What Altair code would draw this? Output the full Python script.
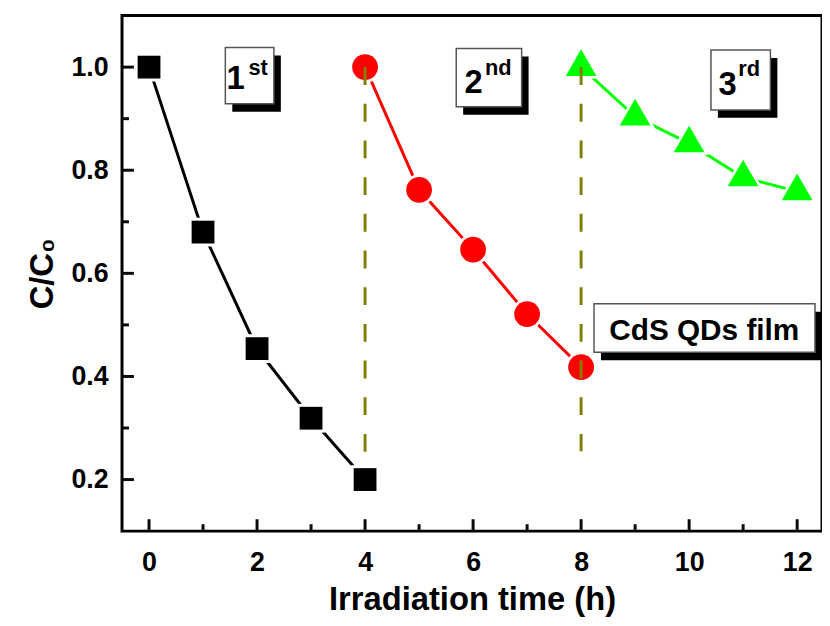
import altair as alt
import pandas as pd

# ---- data ----
t1 = [0, 1, 2, 3, 4]
c1 = [1.0, 0.680, 0.454, 0.319, 0.200]
t2 = [4, 5, 6, 7, 8]
c2 = [1.0, 0.762, 0.646, 0.521, 0.418]
t3 = [8, 9, 10, 11, 12]
c3 = [1.0, 0.904, 0.852, 0.786, 0.759]

run_start = [4, 8]
run_top = [1.0, 1.0]
run_bottom = [0.245, 0.255]

x_major = [0, 2, 4, 6, 8, 10, 12]
x_minor = [1, 3, 5, 7, 9, 11]
y_major = [0.2, 0.4, 0.6, 0.8, 1.0]
y_minor = [0.3, 0.5, 0.7, 0.9]

cycle_main = ["1", "2", "3"]
cycle_sup = ["st", "nd", "rd"]
sample_label = ["CdS QDs film"]

# annotation anchors (data units)
box_left = [1.413, 5.688, 10.404]
box_right = [2.312, 6.899, 11.505]
box_top = [1.038, 1.036, 1.033]
box_bottom = [0.929, 0.923, 0.917]
main_x = [1.77, 6.18, 10.88]
main_y = [0.957, 0.950, 0.946]
sup_x = [1.84, 6.22, 10.91]
sup_y = [0.985, 0.984, 0.982]
sample_box = [8.239, 12.33, 0.541, 0.447]
sample_text = [10.28, 0.471]

W, H = 706, 520
X_DOM = [-0.5, 12.46]
Y_DOM = [0.1, 1.1]
FONT = "Liberation Sans"
TRI = "M0,-1.155L1,0.577L-1,0.577Z"

xs = alt.Scale(domain=X_DOM, nice=False, zero=False)
ys = alt.Scale(domain=Y_DOM, nice=False, zero=False)
x_axis = alt.Axis(values=x_major, format="d", title="Irradiation time (h)", domain=False, ticks=False,
                  tickSize=0, grid=False, labelPadding=19, titlePadding=8)
y_axis = alt.Axis(values=y_major, format=".1f", title="C/C₀", domain=False, ticks=False,
                  tickSize=0, grid=False, labelPadding=14, titlePadding=12)


def X(f):
    return alt.X(f, type="quantitative", scale=xs, axis=x_axis)


def Y(f):
    return alt.Y(f, type="quantitative", scale=ys, axis=y_axis)


def series(t, c):
    return pd.DataFrame({"t": t, "c": c})


xu = (X_DOM[1] - X_DOM[0]) / W
yu = (Y_DOM[1] - Y_DOM[0]) / H
TW = 1.5  # half tick width, px


def xticks(vals, length):
    return pd.DataFrame({"l": [v - TW * xu for v in vals], "r": [v + TW * xu for v in vals],
                         "a": [Y_DOM[0]] * len(vals), "b": [Y_DOM[0] + length * yu] * len(vals)})


def yticks(vals, length):
    return pd.DataFrame({"l": [v - TW * yu for v in vals], "r": [v + TW * yu for v in vals],
                         "a": [X_DOM[0]] * len(vals), "b": [X_DOM[0] + length * xu] * len(vals)})


d1, d2, d3 = series(t1, c1), series(t2, c2), series(t3, c3)

layers = []
for d, col in [(d1, "#000000"), (d2, "#ff0000"), (d3, "#00ff00")]:
    layers.append(alt.Chart(d).mark_line(color=col, strokeWidth=3).encode(x=X("t"), y=Y("c")))

specs = [(d1, "#000000", "square", 529, 841), (d2, "#ff0000", "circle", 676, 1000), (d3, "#00ff00", TRI, 961, 1600)]
for d, col, shp, sz, gap in specs:
    layers.append(alt.Chart(d).mark_point(shape=shp, filled=True, opacity=1, color="white", size=gap,
                                          strokeWidth=0).encode(x=X("t"), y=Y("c")))
    layers.append(alt.Chart(d).mark_point(shape=shp, filled=True, opacity=1, color=col, size=sz,
                                          strokeWidth=0).encode(x=X("t"), y=Y("c")))

runs = pd.DataFrame({"t": run_start, "top": run_top, "bottom": run_bottom})
layers.append(alt.Chart(runs).mark_rule(color="#808000", strokeWidth=3, strokeDash=[18, 19]).encode(
    x=X("t"), y=Y("top"), y2="bottom"))

# label boxes
boxes = pd.DataFrame({"x0": box_left + [sample_box[0]], "x1": box_right + [sample_box[1]],
                      "y0": box_top + [sample_box[2]], "y1": box_bottom + [sample_box[3]]})
layers.append(alt.Chart(boxes).mark_rect(color="black", xOffset=7, x2Offset=7, yOffset=8, y2Offset=8).encode(
    x=X("x0"), x2="x1", y=Y("y0"), y2="y1"))
layers.append(alt.Chart(boxes).mark_rect(fill="white", stroke="#555555", strokeWidth=1.5).encode(
    x=X("x0"), x2="x1", y=Y("y0"), y2="y1"))

labels = pd.DataFrame({"mx": main_x, "my": main_y, "sx": sup_x, "sy": sup_y,
                       "main": cycle_main, "sup": cycle_sup})
layers.append(alt.Chart(labels).mark_text(font=FONT, fontWeight="bold", fontSize=33, align="right",
                                          baseline="alphabetic", color="black").encode(
    x=X("mx"), y=Y("my"), text="main"))
layers.append(alt.Chart(labels).mark_text(font=FONT, fontWeight="bold", fontSize=22, align="left",
                                          baseline="alphabetic", color="black").encode(
    x=X("sx"), y=Y("sy"), text="sup"))
layers.append(alt.Chart(pd.DataFrame({"x": [sample_text[0]], "y": [sample_text[1]], "s": sample_label})).mark_text(
    font=FONT, fontWeight="bold", fontSize=30, align="center", baseline="alphabetic", color="black").encode(
    x=X("x"), y=Y("y"), text="s"))

# inward ticks drawn as thin rectangles
for df in [xticks(x_major, 12), xticks(x_minor, 7)]:
    layers.append(alt.Chart(df).mark_rect(color="#0a0a0a", opacity=1).encode(
        x=X("l"), x2="r", y=Y("a"), y2="b"))
for df in [yticks(y_major, 12), yticks(y_minor, 7)]:
    layers.append(alt.Chart(df).mark_rect(color="#0a0a0a", opacity=1).encode(
        y=Y("l"), y2="r", x=X("a"), x2="b"))

chart = alt.layer(*layers).properties(
    width=W, height=H,
    autosize=alt.AutoSizeParams(type="none"),
    padding={"left": 115, "top": 5, "right": 0, "bottom": 85},
).configure_view(stroke="black", strokeWidth=3).configure_axis(
    labelFont=FONT, labelFontSize=27, labelFontWeight="bold", labelColor="black",
    titleFont=FONT, titleFontSize=33, titleFontWeight="bold", titleColor="black",
)

chart.save("out.html", embed_options={"renderer": "svg", "actions": False})
